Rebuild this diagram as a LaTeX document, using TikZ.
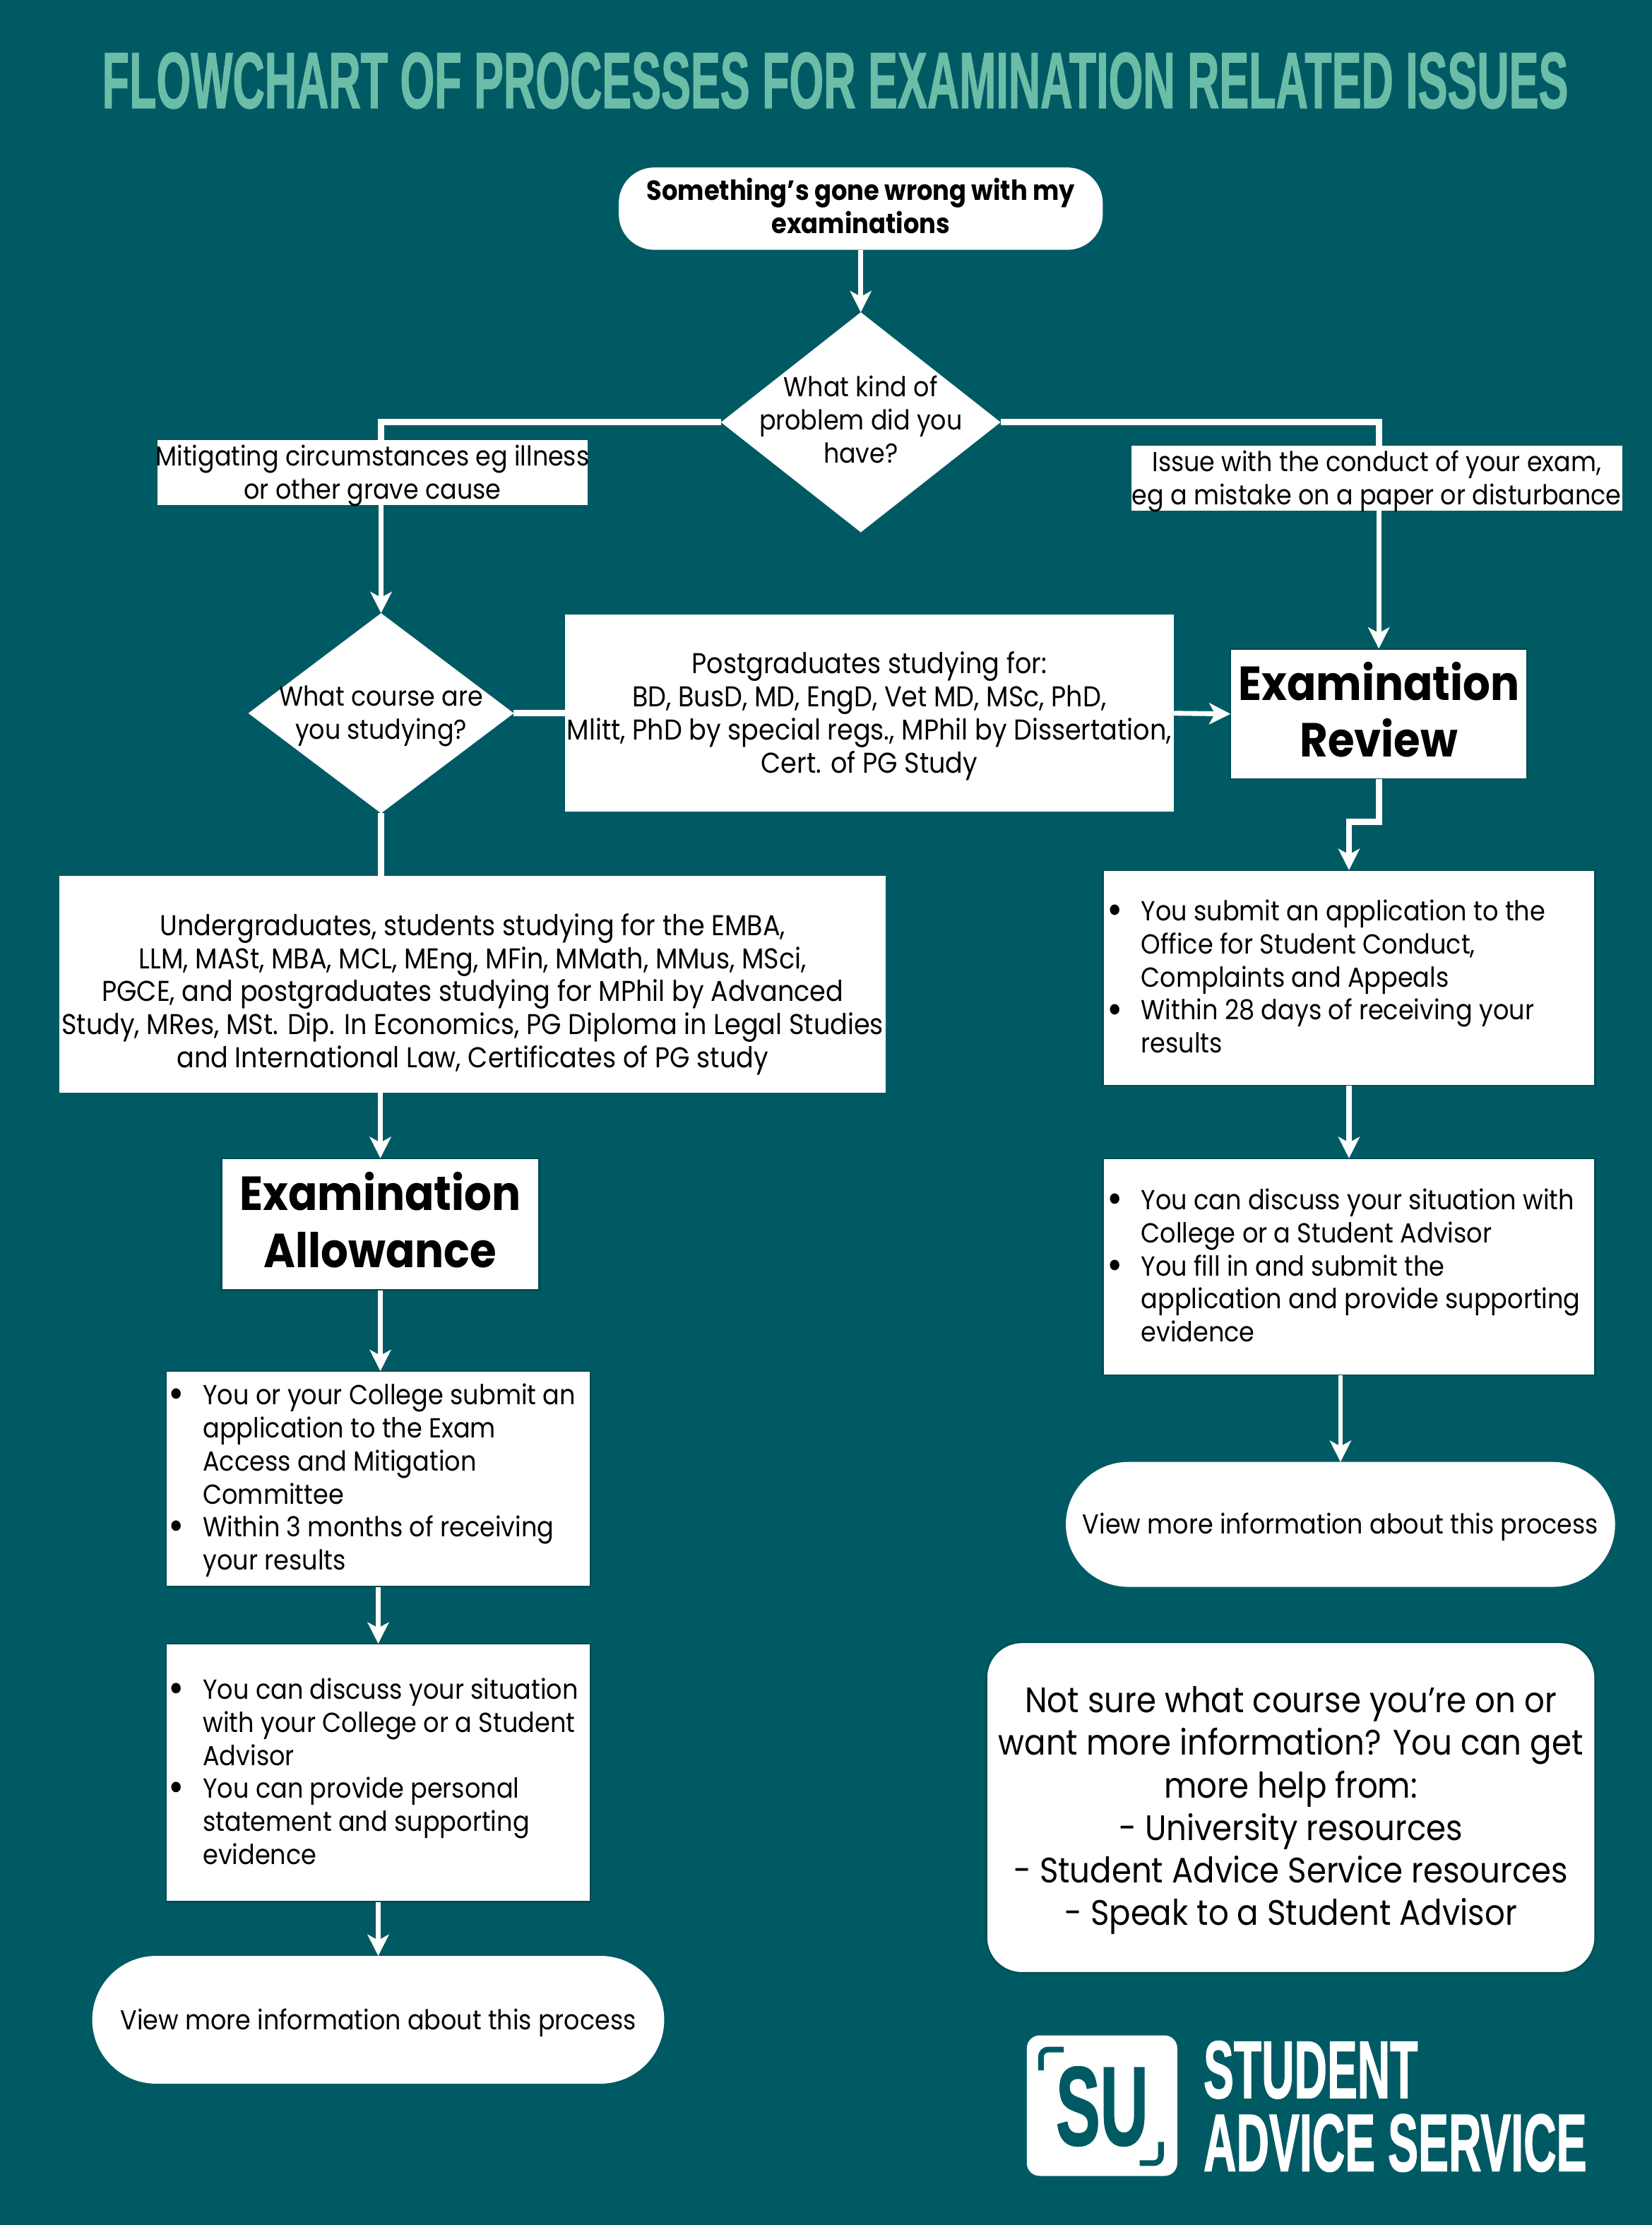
\documentclass[tikz,border=0pt]{standalone}
\usepackage{fontspec}
\usetikzlibrary{arrows.meta,shapes.geometric,calc}
\setmainfont{Poppins}[FakeStretch=0.9]
\newfontfamily\capsf{Liberation Sans}[BoldFeatures={FakeBold=1.5}]
\definecolor{teal}{HTML}{005A64}
\definecolor{tealdark}{HTML}{004C56}
\definecolor{mint}{HTML}{6CBDA8}
\newcommand{\sz}[2]{\fontsize{#1}{#2}\selectfont}
\newcommand{\bul}{\leavevmode\llap{\smash{\raisebox{-2.5pt}{\sz{30}{23}\textbullet}}\hspace{13pt}}}
\newcommand{\blist}[3]{\makebox[#1pt][l]{\hspace{#2pt}\parbox[c]{\dimexpr#1pt-#2pt\relax}{\raggedright\sz{19.4}{23.3}#3}}}
\tikzset{
  x=1pt,y=-1pt,
  arr/.style={draw=white,line width=3.4pt,-{Stealth[length=15pt,width=15pt,inset=4pt]}},
  arrthick/.style={arr,line width=4.4pt},
  lineonly/.style={draw=white,line width=4.4pt},
  base/.style={fill=white,text=black,inner sep=0pt,outer sep=0pt},
  lab/.style={font=\sz{19.3}{23.3},align=center,text=black,inner sep=0pt,outer sep=0pt},
  wide/.style={lab,font=\sz{20.2}{23.3}},
  boxn/.style={base,rectangle,draw=tealdark,line width=1.2pt},
  flat/.style={base,rectangle},
  termn/.style={base,rectangle,rounded corners=#1},
  dec/.style={base,diamond},
  headlab/.style={lab,font=\bfseries\sz{33.7}{40}},
  capt/.style={inner sep=0pt,outer sep=0pt,anchor=north west},
}
\begin{document}
\begin{tikzpicture}
\useasboundingbox (0,0) rectangle (1164,1567.6);
\fill[teal] (0,0) rectangle (1164,1567.6);
% title
\node[capt,text=mint] (title) at (72,37) {\resizebox{1033pt}{39pt}{\capsf\bfseries FLOWCHART OF PROCESSES FOR EXAMINATION RELATED ISSUES}};
% flow nodes
\node[termn=25pt,minimum width=341pt,minimum height=58pt,label={[lab,font=\bfseries\sz{19.5}{23},yshift=2pt]center:{Something's gone wrong with my\\examinations}}] (start) at (606.5,147) {};
\node[dec,minimum width=197pt,minimum height=155pt,shape aspect=1.27,label={[lab,yshift=2pt]center:{What kind of\\problem did you\\have?}}] (d1) at (606.5,297.5) {};
\node[flat,minimum width=303pt,minimum height=46pt,label={[lab,yshift=-2pt]center:{Mitigating circumstances eg illness\\or other grave cause}}] (mit) at (262.5,333) {};
\node[flat,minimum width=346pt,minimum height=46pt,label={[lab,yshift=-2pt]center:{Issue with the conduct of your exam,\\eg a mistake on a paper or disturbance}}] (iss) at (970,337) {};
\node[dec,minimum width=187pt,minimum height=141pt,shape aspect=1.33,label={[lab,yshift=-2pt]center:{What course are\\you studying?}}] (d2) at (268.5,502.5) {};
\node[flat,minimum width=429pt,minimum height=139pt,label={[wide,yshift=-2pt]center:{Postgraduates studying for:\\BD, BusD, MD, EngD, Vet MD, MSc, PhD,\\Mlitt, PhD by special regs., MPhil by Dissertation,\\Cert. of PG Study}}] (pg) at (612.5,502.5) {};
\node[boxn,minimum width=209pt,minimum height=92pt,label={[headlab,yshift=3pt]center:{Examination\\Review}}] (er) at (971.5,503) {};
\node[boxn,minimum width=347pt,minimum height=152pt,label={[lab,yshift=1pt]center:{\blist{347}{27}{\bul You submit an application to the\\Office for Student Conduct,\\Complaints and Appeals\\\bul Within 28 days of receiving your\\results}}}] (r1) at (950.5,689) {};
\node[boxn,minimum width=347pt,minimum height=153pt,label={[lab,yshift=1pt]center:{\blist{347}{27}{\bul You can discuss your situation with\\College or a Student Advisor\\\bul You fill in and submit the\\application and provide supporting\\evidence}}}] (r2) at (950.5,892.5) {};
\node[termn=44pt,minimum width=387pt,minimum height=88pt,label={[lab,yshift=-2pt]center:{View more information about this process}}] (tr) at (944.5,1074) {};
\node[flat,minimum width=582pt,minimum height=153pt,label={[wide,yshift=-7pt]center:{Undergraduates, students studying for the EMBA,\\LLM, MASt, MBA, MCL, MEng, MFin, MMath, MMus, MSci,\\PGCE, and postgraduates studying for MPhil by Advanced\\Study, MRes, MSt. Dip. In Economics, PG Diploma in Legal Studies\\and International Law, Certificates of PG study}}] (ug) at (333,693.5) {};
\node[boxn,minimum width=224pt,minimum height=93pt,label={[headlab,yshift=3pt]center:{Examination\\Allowance}}] (ea) at (268,862.5) {};
\node[boxn,minimum width=299pt,minimum height=152pt,label={[lab,yshift=-1pt]center:{\blist{299}{26}{\bul You or your College submit an\\application to the Exam\\Access and Mitigation\\Committee\\\bul Within 3 months of receiving\\your results}}}] (l1) at (266.5,1042) {};
\node[boxn,minimum width=299pt,minimum height=182pt,label={[lab,yshift=1pt]center:{\blist{299}{26}{\bul You can discuss your situation\\with your College or a Student\\Advisor\\\bul You can provide personal\\statement and supporting\\evidence}}}] (l2) at (266.5,1249) {};
\node[termn=45pt,minimum width=403pt,minimum height=90pt,label={[lab,yshift=-2pt]center:{View more information about this process}}] (tl) at (266.5,1423) {};
\node[termn=25pt,draw=tealdark,line width=1.2pt,minimum width=429pt,minimum height=233pt,label={[lab,font=\sz{24.9}{29.9},yshift=-2pt]center:{Not sure what course you're on or\\want more information? You can get\\more help from:\\- University resources\\- Student Advice Service resources\\- Speak to a Student Advisor}}] (info) at (909.5,1273.5) {};
% connectors
\draw[arr] (start.south) -- (d1.north);
\draw[lineonly] (d1.west) -| (d2.north |- mit.north);
\draw[arr] (d2.north |- mit.south) -- (d2.north);
\draw[lineonly] (d1.east) -| (er.north |- iss.north);
\draw[arr] (er.north |- iss.south) -- (er.north);
\draw[lineonly] (d2.east) -- (pg.west);
\draw[arr] (pg.east) -- (er.west);
\draw[lineonly] (d2.south) -- (d2.south |- ug.north);
\draw[arrthick] (er.south) -- ++(0,30) -| (r1.north);
\draw[arrthick] (r1.south) -- (r2.north);
\draw[arr] (tr.north |- r2.south) -- (tr.north);
\draw[arr] (ea.north |- ug.south) -- (ea.north);
\draw[arr] (ea.south) -- (ea.south |- l1.north);
\draw[arr] (l1.south) -- (l2.north);
\draw[arr] (l2.south) -- (tl.north);
% logo
\node[fill=white,rounded corners=9pt,minimum width=106pt,minimum height=99pt,inner sep=0pt,outer sep=0pt] (logo) at (776.5,1483.5) {};
\node[inner sep=0pt,outer sep=0pt,text=teal] (su) at (776.5,1484) {\resizebox{65pt}{55pt}{\capsf\bfseries SU}};
\draw[teal,line width=4pt,rounded corners=5pt] (733.5,1458.6) -- (733.5,1444) -- (749.5,1444);
\draw[teal,line width=4pt,rounded corners=5pt] (818,1509) -- (818,1524) -- (803,1524);
\node[capt,text=white] (stu) at (848,1438) {\resizebox{151pt}{40pt}{\capsf\bfseries STUDENT}};
\node[capt,text=white] (adv) at (848,1489.5) {\resizebox{270pt}{40pt}{\capsf\bfseries ADVICE SERVICE}};
\end{tikzpicture}
\end{document}
